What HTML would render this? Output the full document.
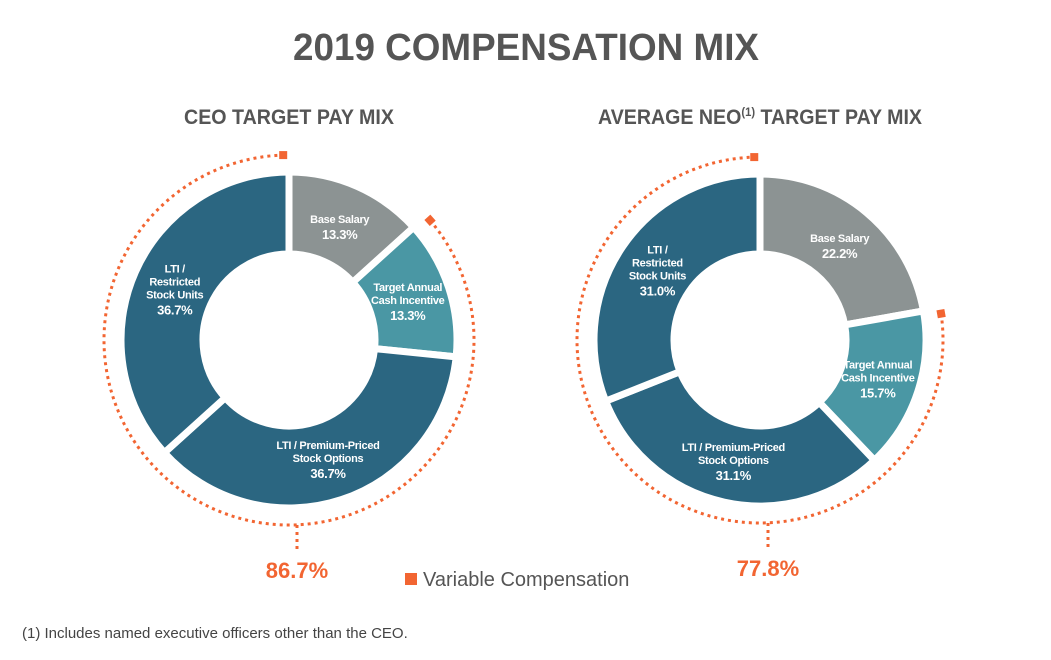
<!DOCTYPE html>
<html><head><meta charset="utf-8"><style>
body{margin:0;background:#fff;}
svg{display:block;font-family:"Liberation Sans",sans-serif;}
</style></head><body>
<svg id="svg" width="1051" height="660" viewBox="0 0 1051 660">
<text x="526" y="60" text-anchor="middle" font-size="38" font-weight="bold" fill="#555" textLength="466" lengthAdjust="spacingAndGlyphs">2019 COMPENSATION MIX</text>
<text x="289" y="124" text-anchor="middle" font-size="21" font-weight="bold" fill="#555" textLength="210" lengthAdjust="spacingAndGlyphs">CEO TARGET PAY MIX</text>
<text x="760" y="124" text-anchor="middle" font-size="21" font-weight="bold" fill="#555" textLength="324" lengthAdjust="spacingAndGlyphs">AVERAGE NEO<tspan font-size="12" dy="-8">(1)</tspan><tspan dy="8"> TARGET PAY MIX</tspan></text>
<rect x="405" y="573" width="12" height="12" fill="#f26532"/>
<text x="423" y="586" font-size="20" fill="#555">Variable Compensation</text>
<text x="22" y="638" font-size="15" fill="#444">(1) Includes named executive officers other than the CEO.</text>
<g id="charts"></g>
</svg>
<script>
const categories = ["Base Salary", "Target Annual Cash Incentive", "LTI / Premium-Priced Stock Options", "LTI / Restricted Stock Units"];
const ceoValues = [13.3, 13.3, 36.7, 36.7];
const neoValues = [22.2, 15.7, 31.1, 31.0];
const variableTotals = ["86.7%", "77.8%"];
const labelLines = [["Base Salary"], ["Target Annual", "Cash Incentive"], ["LTI / Premium-Priced", "Stock Options"], ["LTI /", "Restricted", "Stock Units"]];
const colors = ["#8c9393", "#4a97a4", "#2b6681", "#2b6681"];
const NS = "http://www.w3.org/2000/svg";
const root = document.getElementById("charts");
function mk(tag, attrs, parent){const e=document.createElementNS(NS,tag);for(const k in attrs)e.setAttribute(k,attrs[k]);parent.appendChild(e);return e;}
function pt(cx,cy,r,frac){const a=frac*2*Math.PI;return [cx+r*Math.sin(a), cy-r*Math.cos(a)];}
function drawDonut(values, cx, cy, R, r, total, key){
  const g = mk("g",{},root);
  
  
  const sum = values.reduce((a,b)=>a+b,0);
  let acc = 0;
  values.forEach((v,i)=>{
    const f0=acc/sum, f1=(acc+v)/sum; acc+=v;
    const large=(f1-f0)>0.5?1:0;
    const [x0,y0]=pt(cx,cy,R,f0),[x1,y1]=pt(cx,cy,R,f1),[x2,y2]=pt(cx,cy,r,f1),[x3,y3]=pt(cx,cy,r,f0);
    const p = mk("path",{d:`M${x0},${y0}A${R},${R} 0 ${large} 1 ${x1},${y1}L${x2},${y2}A${r},${r} 0 ${large} 0 ${x3},${y3}Z`,fill:colors[i],stroke:"#fff","stroke-width":7},g);
    
    
    const [lx,ly]=pt(cx,cy,(R+r)/2-2,(f0+f1)/2);
    const lines = labelLines[i].concat([v.toFixed(1)+"%"]);
    const t = mk("text",{x:lx,y:ly-(lines.length-1)*7+4,"text-anchor":"middle",fill:"#fff","font-size":11,"font-weight":"bold","letter-spacing":"-0.3"},g);
    
    
    lines.forEach((s,j)=>{const ts=mk("tspan",{x:lx,dy:j?(j===lines.length-1?16:13):0},t);if(j===lines.length-1){ts.setAttribute("font-size",13);}ts.textContent=s;});
  });
  const fs = values[0]/sum, AR = R+17;
  const [ax0,ay0]=pt(cx,cy,AR,fs+0.005),[ax1,ay1]=pt(cx,cy,AR,0.995);
  const arc = mk("path",{d:`M${ax0},${ay0}A${AR},${AR} 0 1 1 ${ax1},${ay1}`,fill:"none",stroke:"#f26532","stroke-width":3,"stroke-dasharray":"3 4"},g);
  
  
  [[ax0,ay0],[ax1,ay1]].forEach((p,k)=>{
    const s = mk("rect",{x:p[0]-4,y:p[1]-4,width:8,height:8,fill:"#f26532",transform:k===0?`rotate(${fs*360} ${p[0]} ${p[1]})`:""},g);
    
    
  });
  const bx = cx+8;
  const ln = mk("line",{x1:bx,y1:cy+AR,x2:bx,y2:cy+AR+24,stroke:"#f26532","stroke-width":3,"stroke-dasharray":"3 4"},g);
  
  
  const tt = mk("text",{x:bx,y:cy+AR+53,"text-anchor":"middle","font-size":22,"font-weight":"bold",fill:"#f26532"},g);
  
  
  tt.textContent = total;
}
drawDonut(ceoValues, 289, 340, 168, 86, variableTotals[0], "ceo");
drawDonut(neoValues, 760, 340, 166, 86, variableTotals[1], "neo");
</script>
</body></html>
